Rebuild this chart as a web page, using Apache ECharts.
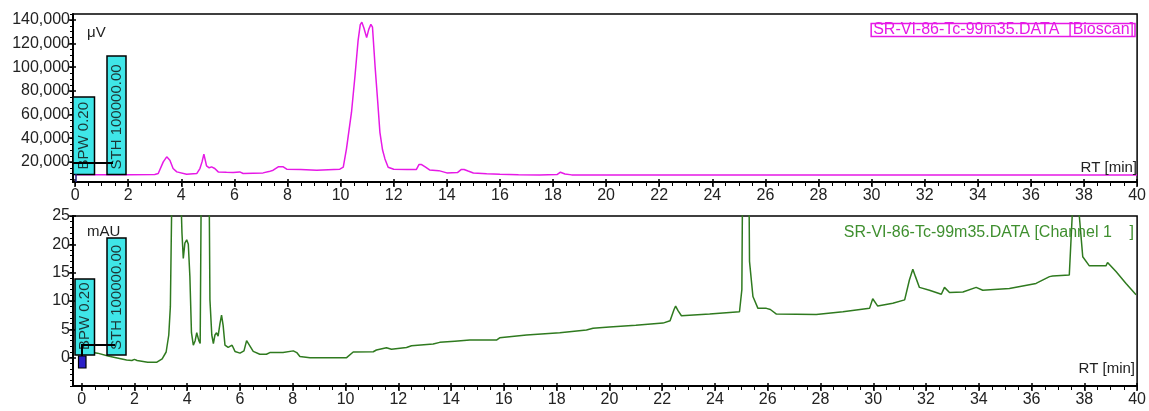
<!DOCTYPE html>
<html>
<head>
<meta charset="utf-8">
<script src="https://cdn.jsdelivr.net/npm/echarts@6/dist/echarts.min.js"></script>
<style>html,body{margin:0;padding:0;background:#fff;}#chart{width:1149px;height:411px;}</style>
</head>
<body>
<div id="chart"></div>
<script>
// ---- Data ----
const topTime = [0, 1, 2, 3.0, 3.13, 3.32, 3.45, 3.57, 3.69, 3.83, 4.2, 4.58, 4.7, 4.78, 4.85, 4.95, 5.05, 5.14, 5.26, 5.39, 5.7, 5.95, 6.0, 6.2, 6.33, 6.7, 7.08, 7.3, 7.46, 7.65, 7.84, 7.97, 8.5, 9.1, 9.97, 10.1, 10.22, 10.41, 10.54, 10.66, 10.74, 10.8, 10.88, 10.98, 11.06, 11.14, 11.2, 11.3, 11.4, 11.48, 11.58, 11.67, 11.79, 12.0, 12.5, 12.85, 12.95, 13.05, 13.2, 13.35, 13.7, 14.0, 14.4, 14.55, 14.65, 14.8, 15.0, 15.5, 16.0, 16.7, 17.5, 18.15, 18.28, 18.45, 18.7, 20, 25, 30, 35, 40];
const topSignal = [9200, 9200, 9200, 9300, 10150, 20000, 24260, 21440, 14380, 11550, 9580, 10150, 14380, 20000, 26520, 16640, 15000, 15790, 14380, 11550, 11200, 10990, 9900, 11550, 10150, 10500, 10710, 11800, 12970, 15790, 15790, 13820, 13600, 12970, 13820, 15500, 31000, 62000, 92400, 123000, 136000, 138000, 133000, 125000, 132000, 136300, 134000, 100000, 70000, 45000, 30000, 22500, 15500, 13800, 13540, 13540, 17770, 17770, 15500, 13200, 12600, 10710, 11000, 13600, 13600, 12300, 10600, 10000, 9600, 9100, 9020, 9300, 11280, 9800, 9020, 9020, 9020, 9020, 9020, 9020];

const bottomTime = [0, 0.3, 0.6, 1.0, 1.3, 1.7, 1.9, 2.0, 2.1, 2.5, 2.85, 3.05, 3.2, 3.3, 3.36, 3.42, 3.5, 3.62, 3.75, 3.8, 3.85, 3.91, 3.98, 4.04, 4.1, 4.16, 4.23, 4.3, 4.36, 4.44, 4.49, 4.53, 4.62, 4.76, 4.83, 4.86, 4.93, 4.99, 5.05, 5.11, 5.17, 5.24, 5.3, 5.36, 5.43, 5.55, 5.62, 5.7, 5.81, 6.0, 6.15, 6.25, 6.31, 6.5, 6.75, 7.0, 7.13, 7.63, 8.02, 8.15, 8.27, 8.65, 9.5, 10.04, 10.29, 11.05, 11.17, 11.55, 11.74, 12.31, 12.5, 13.32, 13.57, 14.14, 14.71, 15.72, 15.84, 16.86, 18.12, 19.13, 19.38, 20.0, 21.0, 22.03, 22.3, 22.45, 22.51, 22.6, 22.73, 23.8, 24.93, 25.02, 25.06, 25.18, 25.29, 25.31, 25.44, 25.63, 25.95, 26.1, 26.33, 27.84, 27.9, 28.85, 29.86, 29.98, 30.17, 30.74, 31.19, 31.37, 31.5, 31.6, 31.75, 32.13, 32.58, 32.7, 32.89, 33.4, 33.9, 34.15, 35.16, 36.17, 36.68, 36.8, 37.43, 37.54, 37.62, 37.76, 37.81, 37.94, 38.19, 38.82, 38.88, 39.2, 39.58, 39.96];
const bottomSignal = [0.8, 1.0, 0.8, 0.3, 0.0, -0.4, -0.5, -0.3, -0.5, -0.8, -0.8, -0.2, 1.0, 4.0, 9.0, 30, 60, 60, 30, 22, 17.5, 20.2, 20.8, 20.0, 14.3, 4.4, 2.2, 3.0, 4.4, 3.0, 2.5, 30, 80, 60, 30, 10.2, 4.0, 2.5, 4.0, 4.4, 3.8, 6.0, 7.5, 5.7, 2.2, 1.8, 1.6, 2.2, 1.1, 0.8, 1.2, 3.0, 3.2, 1.1, 0.6, 0.6, 0.9, 0.9, 1.2, 0.9, 0.2, 0.0, 0.0, 0.0, 1.0, 1.05, 1.35, 1.75, 1.5, 1.8, 2.1, 2.4, 2.7, 2.9, 3.1, 3.1, 3.5, 4.0, 4.4, 4.9, 5.2, 5.4, 5.7, 6.1, 6.5, 8.5, 9.1, 8.3, 7.4, 7.7, 8.1, 12, 40, 45, 30, 17, 10.8, 8.7, 8.7, 8.5, 7.7, 7.6, 7.8, 8.1, 8.7, 10.4, 9.1, 9.6, 10.2, 13.7, 15.6, 14.3, 12.4, 11.9, 11.2, 12.4, 11.5, 11.6, 12.4, 11.9, 12.2, 13.1, 14.3, 14.4, 14.6, 25, 35, 35, 25, 17.8, 16.2, 16.2, 16.8, 15.2, 13.1, 11.1];

const xMajorTicks = [0, 2, 4, 6, 8, 10, 12, 14, 16, 18, 20, 22, 24, 26, 28, 30, 32, 34, 36, 38, 40];
const topYTicks = [20000, 40000, 60000, 80000, 100000, 120000, 140000];
const bottomYTicks = [0, 5, 10, 15, 20, 25];

const topTitle = 'SR-VI-86-Tc-99m35.DATA  [Bioscan]';
const bottomTitle = 'SR-VI-86-Tc-99m35.DATA [Channel 1    ]';

// ---- helpers ----
function range(a, b, step) { const r = []; for (let v = a; v <= b + 1e-9; v += step) r.push(+v.toFixed(4)); return r; }
const xMinorTicks = range(0, 40, 0.5);
const topYMinor = range(5000, 145000, 5000);
const bottomYMinor = range(-5, 25, 1);

const FONT = 'Liberation Sans, Arial, sans-serif';
const MAGENTA = '#e619e6';
const GREEN = '#2f7a1f';
const CYAN = '#3fe6e8';
const LABEL = { fontSize: 16, color: '#222', fontFamily: FONT };

function xAxes(grid, min, max) {
  return [
    { type: 'value', gridIndex: grid, min, max, position: 'bottom',
      axisLine: { onZero: false, lineStyle: { color: '#000', width: 2 } },
      axisTick: { customValues: xMajorTicks, length: 5, lineStyle: { color: '#000', width: 1.5 } },
      axisLabel: Object.assign({ customValues: xMajorTicks, margin: 6 }, LABEL),
      splitLine: { show: false } },
    { type: 'value', gridIndex: grid, min, max, position: 'bottom',
      axisLine: { show: false, onZero: false },
      axisTick: { customValues: xMinorTicks, length: 4, lineStyle: { color: '#000', width: 1 } },
      axisLabel: { show: false }, splitLine: { show: false } },
    { type: 'value', gridIndex: grid, min, max, position: 'bottom',
      axisLine: { show: false, onZero: false },
      axisTick: { customValues: xMajorTicks, inside: true, length: 3, lineStyle: { color: '#000', width: 1.5 } },
      axisLabel: { show: false }, splitLine: { show: false } }
  ];
}
function yAxes(grid, min, max, majors, minors, fmt) {
  return [
    { type: 'value', gridIndex: grid, min, max, position: 'left',
      axisLine: { show: true, onZero: false, lineStyle: { color: '#000', width: 2 } },
      axisTick: { show: true, customValues: majors, length: 4, lineStyle: { color: '#000', width: 1.5 } },
      axisLabel: Object.assign({ customValues: majors, margin: 3, formatter: fmt }, LABEL),
      splitLine: { show: false } },
    { type: 'value', gridIndex: grid, min, max, position: 'left',
      axisLine: { show: false, onZero: false },
      axisTick: { show: true, customValues: minors, length: 3, lineStyle: { color: '#000', width: 1 } },
      axisLabel: { show: false }, splitLine: { show: false } },
    { type: 'value', gridIndex: grid, min, max, position: 'left',
      axisLine: { show: false, onZero: false },
      axisTick: { show: true, customValues: majors, inside: true, length: 3, lineStyle: { color: '#000', width: 1.5 } },
      axisLabel: { show: false }, splitLine: { show: false } }
  ];
}

function boxWithText(x, y, w, h, label) {
  return [
    { type: 'rect', shape: { x, y, width: w, height: h }, style: { fill: CYAN, stroke: '#000', lineWidth: 1.5 }, z: 100 },
    { type: 'text', x: x + w / 2 + 0.5, y: y + h - 5, rotation: Math.PI / 2,
      style: { text: label, font: '15px ' + FONT, fill: '#1d3535', align: 'left', verticalAlign: 'middle' }, z: 101 }
  ];
}

const chart = echarts.init(document.getElementById('chart'), null, { renderer: 'canvas' });
const option = {
  animation: false,
  backgroundColor: '#fff',
  grid: [
    { left: 73, right: 9, top: 14, bottom: 229, show: true, borderColor: '#000', borderWidth: 1.5, containLabel: false },
    { left: 73, right: 11, top: 216, bottom: 25, show: true, borderColor: '#000', borderWidth: 1.5, containLabel: false }
  ],
  xAxis: [].concat(xAxes(0, -0.08, 40), xAxes(1, -0.33, 40)),
  yAxis: [].concat(
    yAxes(0, 3000, 145000, topYTicks, topYMinor, v => v.toLocaleString('en-US')),
    yAxes(1, -5, 25, bottomYTicks, bottomYMinor, v => String(v))
  ),
  series: [
    { type: 'line', xAxisIndex: 0, yAxisIndex: 0, showSymbol: false, clip: true,
      lineStyle: { color: MAGENTA, width: 1.5 }, itemStyle: { color: MAGENTA },
      data: topTime.map((t, i) => [t, topSignal[i]]), z: 5 },
    { type: 'line', xAxisIndex: 3, yAxisIndex: 3, showSymbol: false, clip: true,
      lineStyle: { color: GREEN, width: 1.5 }, itemStyle: { color: GREEN },
      data: bottomTime.map((t, i) => [t, bottomSignal[i]]), z: 5 }
  ],
  graphic: [
    // units
    { type: 'text', x: 87, y: 33, style: { text: 'μV', font: '15px ' + FONT, fill: '#222', verticalAlign: 'middle' } },
    { type: 'text', x: 87, y: 232, style: { text: 'mAU', font: '15px ' + FONT, fill: '#222', verticalAlign: 'middle' } },
    // axis titles
    { type: 'text', x: 1137, y: 168, style: { text: 'RT [min]', font: '15px ' + FONT, fill: '#222', align: 'right', verticalAlign: 'middle' }, z: 50 },
    { type: 'text', x: 1135, y: 369, style: { text: 'RT [min]', font: '15px ' + FONT, fill: '#222', align: 'right', verticalAlign: 'middle' }, z: 50 },
    // series titles
    { type: 'text', x: 1135, y: 30, style: { text: topTitle, font: '16px ' + FONT, fill: MAGENTA, align: 'right', verticalAlign: 'middle',
        borderColor: MAGENTA, borderWidth: 1.5, padding: [-1, 1, -2, 2] }, z: 50 },
    { type: 'text', x: 1134, y: 233, style: { text: bottomTitle, font: '16px ' + FONT, fill: '#3f8f2f', align: 'right', verticalAlign: 'middle' }, z: 50 },
    // top annotations
    ...boxWithText(73, 97, 21.5, 77.5, 'BPW 0.20'),
    ...boxWithText(107, 56, 19, 118.5, 'STH 100000.00'),
    { type: 'polyline', shape: { points: [[73, 163], [113, 163]] }, style: { stroke: '#000', lineWidth: 2 }, z: 102 },
    { type: 'polyline', shape: { points: [[76, 174], [76, 182]] }, style: { stroke: '#202080', lineWidth: 1.5 }, z: 102 },
    // bottom annotations
    ...boxWithText(75, 279, 19.5, 76, 'BPW 0.20'),
    ...boxWithText(107, 238, 19, 117, 'STH 100000.00'),
    { type: 'polyline', shape: { points: [[82, 357], [82, 345], [115, 345]] }, style: { stroke: '#000', lineWidth: 2, fill: null }, z: 102 },
    { type: 'rect', shape: { x: 78.5, y: 356, width: 7.5, height: 12 }, style: { fill: '#2b20c8', stroke: '#000', lineWidth: 1.2 }, z: 103 }
  ]
};
chart.setOption(option);
</script>
</body>
</html>
